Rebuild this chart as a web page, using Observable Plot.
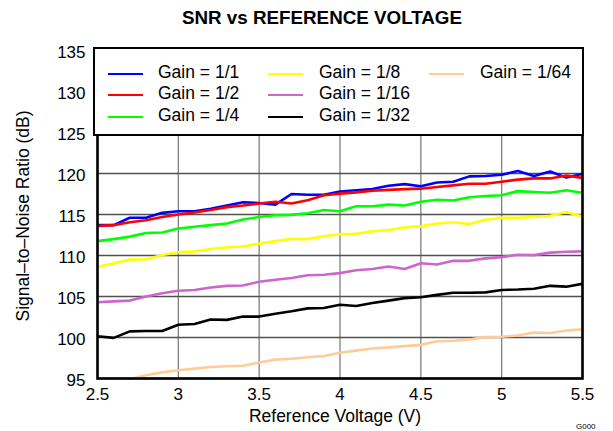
<!DOCTYPE html>
<html><head><meta charset="utf-8">
<script src="https://cdn.jsdelivr.net/npm/d3@7"></script>
<script src="https://cdn.jsdelivr.net/npm/@observablehq/plot@0.6"></script>
<style>
body{margin:0;background:#fff;font-family:"Liberation Sans",Arial,sans-serif;color:#000}
#wrap{position:relative;width:613px;height:431px;overflow:hidden;background:#fff}
#wrap svg{position:absolute;left:0;top:0}
.txt{position:absolute;white-space:nowrap;line-height:1}
#title{left:0;width:644px;top:9px;text-align:center;font-weight:bold;font-size:18.8px}
#xtitle{left:0;width:670px;top:408px;text-align:center;font-size:17.5px}
#ytitle{left:24px;top:216px;font-size:17.5px;transform:translate(-50%,-50%) rotate(-90deg)}
#code{left:576px;top:423px;font-size:8px}
#legend{position:absolute;left:93px;top:47px;width:491px;height:89px;border:2px solid #000;box-sizing:border-box;background:#fff}
.sw{position:absolute;height:2.5px;width:35px}
.lt{position:absolute;font-size:17.5px;line-height:1;white-space:nowrap}
</style></head><body>
<div id="wrap"></div>
<script>
const voltage = [2.5,2.6,2.7,2.8,2.9,3.0,3.1,3.2,3.3,3.4,3.5,3.6,3.7,3.8,3.9,4.0,4.1,4.2,4.3,4.4,4.5,4.6,4.7,4.8,4.9,5.0,5.1,5.2,5.3,5.4,5.5];
const seriesNames = ["Gain = 1/1","Gain = 1/2","Gain = 1/4","Gain = 1/8","Gain = 1/16","Gain = 1/32","Gain = 1/64"];
const seriesColors = ["#0000ff","#ff0000","#00ff00","#ffff00","#cc66cc","#000000","#ffcc99"];
const gain1 = [113.7,113.7,114.6,114.6,115.2,115.4,115.4,115.7,116.1,116.5,116.4,116.2,117.5,117.4,117.4,117.8,117.95,118.1,118.5,118.7,118.45,118.9,119.0,119.65,119.7,119.85,120.3,119.7,120.25,119.5,119.95];
const gain2 = [113.6,113.7,114.05,114.3,114.7,115.0,115.25,115.55,115.9,116.1,116.35,116.55,116.35,116.75,117.35,117.55,117.7,117.9,118.0,118.1,118.15,118.35,118.55,118.75,118.75,119.0,119.25,119.4,119.4,119.75,119.45];
const gain4 = [111.75,112.0,112.3,112.75,112.8,113.3,113.5,113.7,113.9,114.4,114.7,114.9,114.95,115.15,115.55,115.4,116.0,116.0,116.2,116.1,116.55,116.8,116.7,117.1,117.25,117.35,117.85,117.75,117.65,117.95,117.65];
const gain8 = [108.6,109.05,109.5,109.55,110.05,110.4,110.5,110.8,111.0,111.1,111.45,111.75,112.05,112.0,112.35,112.6,112.65,112.95,113.1,113.45,113.55,113.9,114.05,113.85,114.35,114.6,114.6,114.7,114.85,115.3,114.75];
const gain16 = [104.3,104.4,104.5,105.0,105.4,105.7,105.8,106.1,106.3,106.35,106.8,107.05,107.25,107.6,107.65,107.85,108.2,108.35,108.65,108.35,109.05,108.9,109.35,109.35,109.65,109.8,110.1,110.05,110.35,110.45,110.5];
const gain32 = [100.15,99.95,100.75,100.8,100.8,101.55,101.65,102.2,102.15,102.55,102.55,102.9,103.2,103.55,103.6,104.0,103.85,104.2,104.5,104.8,104.9,105.2,105.45,105.45,105.5,105.8,105.85,105.95,106.3,106.2,106.55];
const gain64 = [93.6,94.1,94.9,95.4,95.75,96.0,96.2,96.4,96.5,96.55,96.95,97.3,97.4,97.6,97.75,98.15,98.4,98.65,98.8,98.95,99.1,99.55,99.6,99.75,100.05,100.1,100.25,100.6,100.55,100.85,101.0];
const xTicks = [2.5,3,3.5,4,4.5,5,5.5];
const yTicks = [95,100,105,110,115,120,125,130,135];

const allSeries = [gain1,gain2,gain4,gain8,gain16,gain32,gain64];
const rows = [];
allSeries.forEach((vals, si) => vals.forEach((snr, i) => rows.push({series: seriesNames[si], v: voltage[i], snr})));

const chart = Plot.plot({
  width: 613, height: 431,
  marginLeft: 97, marginRight: 31, marginTop: 50, marginBottom: 53,
  style: {fontFamily: "'Liberation Sans', Arial, sans-serif", fontSize: "17px", color: "#000", background: "transparent", overflow: "visible"},
  x: {domain: [2.5, 5.5]},
  y: {domain: [95, 135]},
  color: {domain: seriesNames, range: seriesColors},
  marks: [
    Plot.ruleX(xTicks, {stroke: "#808080", strokeWidth: 1.3}),
    Plot.ruleY(yTicks, {stroke: "#505050", strokeWidth: 1.3}),
    Plot.line(rows, {x: "v", y: "snr", z: "series", stroke: "series", strokeWidth: 2.6, clip: true}),
    Plot.frame({stroke: "#000", strokeWidth: 2.6}),
    Plot.axisX({ticks: xTicks, tickSize: 0, tickPadding: 9, label: null, tickFormat: d => String(d), fill: "#000", fontSize: 17}),
    Plot.axisY({ticks: yTicks, tickSize: 0, tickPadding: 12, dy: 2, label: null, tickFormat: d => String(d), fill: "#000", fontSize: 17})
  ]
});

const wrap = document.getElementById("wrap");
wrap.appendChild(chart);

function addText(id, text) {
  const d = document.createElement("div");
  d.className = "txt"; d.id = id; d.textContent = text;
  wrap.appendChild(d);
}
addText("title", "SNR vs REFERENCE VOLTAGE");
addText("xtitle", "Reference Voltage (V)");
addText("ytitle", "Signal\u2013to\u2013Noise Ratio (dB)");
addText("code", "G000");

const legend = document.createElement("div");
legend.id = "legend";
const colSw = [13, 173, 334];
const colTx = [63, 224, 385];
const rowY = [25, 46, 68];
seriesNames.forEach((name, i) => {
  const c = Math.floor(i / 3), r = i % 3;
  const sw = document.createElement("div");
  sw.className = "sw";
  sw.style.left = colSw[c] + "px";
  sw.style.top = (rowY[r] - 1.5) + "px";
  sw.style.background = seriesColors[i];
  legend.appendChild(sw);
  const t = document.createElement("div");
  t.className = "lt";
  t.style.left = colTx[c] + "px";
  t.style.top = (rowY[r] - 9.6) + "px";
  t.textContent = name;
  legend.appendChild(t);
});
wrap.appendChild(legend);
</script>
</body></html>
